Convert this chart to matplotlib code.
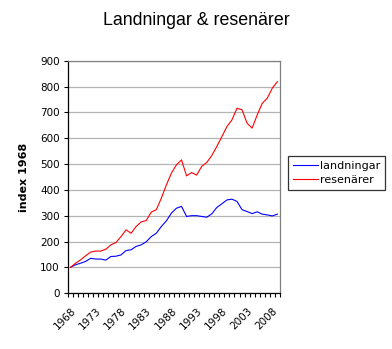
import numpy as np
import matplotlib
matplotlib.use("Agg")
import matplotlib.pyplot as plt
from matplotlib.ticker import FixedLocator, MultipleLocator
from matplotlib.transforms import ScaledTranslation

# index values, 1968 = 100
years = list(range(1968, 2010))
landningar = [100, 110, 116, 123, 135, 132, 132, 128, 142, 143,
              148, 165, 168, 181, 187, 199, 219, 232, 258, 280,
              310, 329, 336, 297, 300, 300, 297, 294, 307, 332,
              346, 361, 364, 355, 323, 316, 308, 315, 306, 303,
              299, 306]
resenarer = [100, 116, 129, 145, 159, 163, 163, 170, 187, 196,
             219, 245, 232, 258, 276, 281, 314, 323, 368, 419,
             465, 497, 516, 454, 467, 457, 491, 506, 533, 568,
             606, 645, 671, 716, 710, 658, 639, 690, 735, 755,
             794, 819]
label_years = [1968, 1973, 1978, 1983, 1988, 1993, 1998, 2003, 2008]

fig = plt.figure(figsize=(3.92, 3.49), dpi=100)
ax = fig.add_axes([0.1735, 0.160, 0.5405, 0.666])

x = np.arange(len(years))
ax.plot(x, landningar, color="#0000ff", lw=0.8, label="landningar")
ax.plot(x, resenarer, color="#ff0000", lw=0.8, label="resenärer")

ax.set_xlim(-0.5, len(years) - 0.5)
ax.set_ylim(0, 900)
ax.yaxis.set_major_locator(MultipleLocator(100))
ax.grid(axis="y", color="#b4b4b4", lw=0.9)
ax.set_axisbelow(True)

# category axis: ticks between categories, labels every 5 years
ax.xaxis.set_major_locator(FixedLocator(np.arange(len(years) + 1) - 0.5))
ax.set_xticklabels([])
lbl_pos = [years.index(y) for y in label_years]
ax.xaxis.set_minor_locator(FixedLocator(lbl_pos))
ax.set_xticklabels([str(y) for y in label_years], minor=True,
                   rotation=45, ha="right", rotation_mode="anchor")
shift = ScaledTranslation(-5 / 100, 0, fig.dpi_scale_trans)
for t in ax.get_xticklabels(minor=True):
    t.set_transform(t.get_transform() + shift)
ax.tick_params(axis="x", which="major", length=3, width=0.8, direction="out")
ax.tick_params(axis="x", which="minor", length=0, pad=9, labelsize=7.5)
ax.tick_params(axis="y", length=3, width=0.8, labelsize=7.5, pad=3)

for s in ["left", "bottom"]:
    ax.spines[s].set_color("black")
    ax.spines[s].set_linewidth(0.9)
for s in ["top", "right"]:
    ax.spines[s].set_color("#808080")
    ax.spines[s].set_linewidth(0.9)

ax.set_ylabel("index 1968", fontsize=8, fontweight="bold", labelpad=8)
fig.suptitle("Landningar & resenärer", fontsize=12.8, y=0.965,
             family="Liberation Sans")

leg = fig.legend(loc="upper left", bbox_to_anchor=(0.735, 0.552),
                 borderaxespad=0, fontsize=8, frameon=True, fancybox=False,
                 handlelength=2.2, handletextpad=0.2, borderpad=0.45,
                 labelspacing=0.35)
leg.get_frame().set_edgecolor("black")
leg.get_frame().set_linewidth(0.9)

fig.savefig("out.png", dpi=100)
